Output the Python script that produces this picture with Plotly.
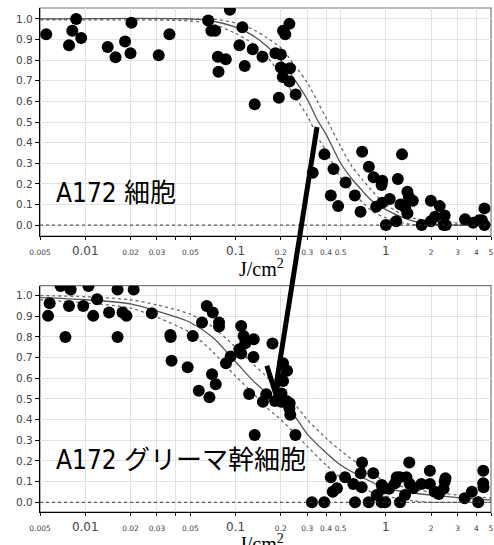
import plotly.graph_objects as go

# ---------------- data ----------------
# Top panel: A172 cells
top_x = [0.0055, 0.0078, 0.0082, 0.0087, 0.0094, 0.0141, 0.0159, 0.0184, 0.020, 0.0203,
         0.0308, 0.0363, 0.0658, 0.069, 0.0732, 0.0762, 0.077, 0.0861, 0.0916, 0.106,
         0.111, 0.115, 0.130, 0.151, 0.134, 0.228, 0.207, 0.214, 0.184, 0.200,
         0.200, 0.230, 0.206, 0.228, 0.251, 0.194,
         0.326, 0.39, 0.448, 0.43, 0.481, 0.539, 0.621, 0.678, 0.695, 0.77,
         0.828, 0.945, 0.936, 0.861, 0.945, 1.0, 1.06, 1.17, 1.2, 1.28,
         1.25, 1.39, 1.42, 1.51, 1.34, 1.39, 1.73, 1.99, 1.99, 2.12,
         2.28, 2.46, 2.42, 2.5, 3.36, 3.8, 4.17, 4.52, 4.52, 4.35]
top_y = [0.926, 0.872, 0.943, 1.0, 0.908, 0.864, 0.814, 0.89, 0.833, 0.982,
         0.824, 0.926, 0.992, 0.943, 0.943, 0.816, 0.744, 0.804, 1.044, 0.872,
         0.96, 0.772, 0.853, 0.816, 0.586, 0.976, 0.943, 0.926, 0.833, 0.827,
         0.764, 0.761, 0.718, 0.696, 0.634, 0.618,
         0.254, 0.343, 0.272, 0.144, 0.092, 0.207, 0.144, 0.065, 0.356, 0.283,
         0.232, 0.215, 0.194, 0.089, 0.108, 0.0, 0.126, 0.019, 0.223, 0.343,
         0.1, 0.162, 0.137, 0.118, 0.086, 0.057, 0.0, 0.118, 0.019, 0.04,
         0.092, 0.047, 0.0, 0.0, 0.028, 0.011, 0.024, 0.081, 0.0, 0.024]

# Bottom panel: A172 glioma stem cells
bot_x = [0.00566, 0.0058, 0.00686, 0.00738, 0.0078, 0.008, 0.0097, 0.0105, 0.0113, 0.012,
         0.0144, 0.0164, 0.0164, 0.0177, 0.0188, 0.021, 0.0277, 0.0368, 0.037, 0.0375,
         0.048, 0.0519, 0.0569, 0.0598, 0.0643, 0.067, 0.0697, 0.0705, 0.0738, 0.0776,
         0.0776, 0.0863, 0.0927, 0.106, 0.109, 0.109, 0.113, 0.116, 0.123, 0.132,
         0.1315, 0.152, 0.16, 0.176, 0.183, 0.202, 0.207, 0.22, 0.207, 0.201,
         0.218, 0.229, 0.228, 0.231,
         0.25, 0.134, 0.322, 0.389, 0.43, 0.443, 0.472, 0.535, 0.607, 0.623,
         0.68, 0.694, 0.69, 0.768, 0.824, 0.868, 0.937, 0.95, 0.937, 0.99,
         1.05, 1.15, 1.18, 1.24, 1.24, 1.34, 1.37, 1.43, 1.44, 1.52,
         1.72, 1.96, 1.96, 2.11, 2.25, 2.42, 2.49, 2.46, 3.34, 3.73,
         4.11, 4.44, 4.44, 4.46]
bot_y = [0.902, 0.963, 1.047, 0.80, 0.95, 1.03, 0.95, 1.047, 0.902, 0.983,
         0.918, 1.03, 0.80, 0.918, 0.902, 1.03, 0.915, 0.81, 0.80, 0.685,
         0.653, 0.805, 0.54, 0.87, 0.95, 0.508, 0.62, 0.918, 0.571, 0.87,
         0.85, 0.673, 0.705, 0.74, 0.72, 0.853, 0.805, 0.77, 0.524, 0.789,
         0.703, 0.487, 0.523, 0.768, 0.49, 0.526, 0.673, 0.636, 0.587, 0.487,
         0.49, 0.479, 0.455, 0.423,
         0.326, 0.326, 0.0, 0.0, 0.121, 0.051, 0.068, 0.121, 0.089, 0.0,
         0.14, 0.192, 0.073, 0.0, 0.14, 0.035, 0.084, 0.066, 0.0, 0.0,
         0.066, 0.092, 0.121, 0.121, 0.0, 0.035, 0.121, 0.192, 0.089, 0.068,
         0.089, 0.153, 0.089, 0.051, 0.04, 0.066, 0.116, 0.1, 0.019, 0.051,
         0.0, 0.153, 0.092, 0.073]

# Fitted curves and confidence bands
top_curve_x = [0.005, 0.05, 0.07, 0.1, 0.13, 0.16, 0.2, 0.25, 0.3, 0.35, 0.4, 0.5,
               0.6, 0.7, 0.8, 1.0, 1.3, 1.6, 2.0, 3.0, 5.0]
top_fit = [1.0, 1.0, 0.99, 0.96, 0.92, 0.87, 0.80, 0.70, 0.61, 0.51, 0.44, 0.30,
           0.22, 0.165, 0.12, 0.075, 0.036, 0.015, 0.005, 0.0, 0.0]
top_hi = [1.0, 1.0, 1.0, 0.98, 0.95, 0.91, 0.86, 0.77, 0.69, 0.60, 0.52, 0.38,
          0.28, 0.22, 0.17, 0.10, 0.05, 0.03, 0.02, 0.01, 0.005]
top_lo = [0.995, 0.99, 0.975, 0.93, 0.88, 0.82, 0.73, 0.62, 0.53, 0.43, 0.36, 0.23,
          0.16, 0.11, 0.07, 0.035, 0.01, 0.0, 0.0, 0.0, 0.0]

bot_curve_x = [0.005, 0.01, 0.02, 0.03, 0.05, 0.07, 0.1, 0.13, 0.16, 0.2, 0.25, 0.3,
               0.4, 0.5, 0.7, 1.0, 1.5, 2.0, 3.0, 5.0]
bot_fit = [0.99, 0.98, 0.96, 0.925, 0.87, 0.80, 0.68, 0.59, 0.53, 0.47, 0.41, 0.33,
           0.24, 0.18, 0.12, 0.068, 0.045, 0.035, 0.023, 0.01]
bot_hi = [1.0, 0.995, 0.98, 0.955, 0.91, 0.85, 0.75, 0.67, 0.61, 0.54, 0.47, 0.40,
          0.31, 0.25, 0.17, 0.10, 0.065, 0.05, 0.035, 0.02]
bot_lo = [0.98, 0.965, 0.94, 0.895, 0.82, 0.73, 0.61, 0.53, 0.46, 0.40, 0.33, 0.27,
          0.18, 0.12, 0.065, 0.03, 0.008, 0.0, 0.0, 0.0]

x_tickvals = [0.005, 0.01, 0.02, 0.03, 0.04, 0.05, 0.1, 0.2, 0.3, 0.4, 0.5,
              1, 2, 3, 4, 5]
x_ticklabels = ["0.005", "0.01", "0.02", "0.03", "", "0.05", "0.1", "0.2", "0.3",
                "0.4", "0.5", "1", "2", "3", "4", "5"]
major_labels = {"0.01", "0.1", "1"}
y_tickvals = [0.0, 0.1, 0.2, 0.3, 0.4, 0.5, 0.6, 0.7, 0.8, 0.9, 1.0]

panel_labels = ["A172 細胞", "A172 グリーマ幹細胞"]
x_title = "J/cm<sup>2</sup>"

# ---------------- figure ----------------
fig = go.Figure()

def add_panel(xa, ya, cx, fit, hi, lo, px, py):
    for band in (hi, lo):
        fig.add_trace(go.Scatter(x=cx, y=band, mode="lines", xaxis=xa, yaxis=ya,
                                 line=dict(color="#6a6a6a", width=1.3, dash="dot",
                                           shape="spline", smoothing=0.8),
                                 showlegend=False, hoverinfo="skip"))
    fig.add_trace(go.Scatter(x=cx, y=fit, mode="lines", xaxis=xa, yaxis=ya,
                             line=dict(color="#555555", width=1.3, shape="spline",
                                       smoothing=0.8),
                             showlegend=False, hoverinfo="skip"))
    fig.add_trace(go.Scatter(x=px, y=py, mode="markers", xaxis=xa, yaxis=ya,
                             marker=dict(size=12, color="black"),
                             showlegend=False))

add_panel("x", "y", top_curve_x, top_fit, top_hi, top_lo, top_x, top_y)
add_panel("x2", "y2", bot_curve_x, bot_fit, bot_hi, bot_lo, bot_x, bot_y)

ticktext = []
for t in x_ticklabels:
    if t in major_labels:
        ticktext.append('<span style="font-size:12px">%s</span>' % t)
    else:
        ticktext.append('<span style="font-size:7.5px">%s</span>' % t)

xcommon = dict(type="log", range=[-2.301, 0.699], tickvals=x_tickvals, ticktext=ticktext,
               showgrid=True, gridcolor="#e2e2e2", gridwidth=1, showline=True,
               linecolor="black", linewidth=1.2, ticks="outside", ticklen=3,
               tickcolor="black", tickfont=dict(family="DejaVu Sans", size=12, color="#444"),
               zeroline=False, fixedrange=True, automargin=False)
ycommon = dict(tickvals=y_tickvals, tickformat=".1f", showgrid=True, gridcolor="#e2e2e2",
               gridwidth=1, showline=True, linecolor="black", linewidth=1.2,
               ticks="outside", ticklen=4, tickcolor="black",
               tickfont=dict(family="Verdana, DejaVu Sans", size=10.5, color="#444"),
               zeroline=False, fixedrange=True, automargin=False)

fig.update_layout(
    width=494, height=545,
    margin=dict(l=40, r=3, t=8, b=33, autoexpand=False),
    paper_bgcolor="white", plot_bgcolor="white",
    xaxis=dict(domain=[0, 1], anchor="y", **xcommon),
    yaxis=dict(domain=[0.5476, 1.0], anchor="x", range=[-0.053, 1.053], **ycommon),
    xaxis2=dict(domain=[0, 1], anchor="y2", **xcommon),
    yaxis2=dict(domain=[0.0, 0.449], anchor="x2", range=[-0.047, 1.048], **ycommon),
)

shapes = []
for xa, ya in (("x", "y"), ("x2", "y2")):
    shapes.append(dict(type="rect", xref=xa + " domain", yref=ya + " domain",
                       x0=0, x1=1, y0=0, y1=1, line=dict(color="#777", width=1.2),
                       layer="below"))
    shapes.append(dict(type="line", xref=xa + " domain", yref=ya, x0=0, x1=1, y0=0, y1=0,
                       line=dict(color="#333", width=1, dash="dot"), layer="above"))
# arrow (shaft + open head)
shapes.append(dict(type="line", xref="paper", yref="paper", x0=0.6142, y0=0.7639,
                   x1=0.5233, y1=0.25, line=dict(color="black", width=5), layer="above"))
shapes.append(dict(type="path", xref="paper", yref="paper",
                   path="M 0.5030,0.2900 L 0.5211,0.2391 L 0.5425,0.2810",
                   line=dict(color="black", width=5), layer="above"))
fig.update_layout(shapes=shapes)

label_font = dict(family="Liberation Sans Narrow, DejaVu Sans Condensed, Roboto, Noto Sans CJK JP",
                  size=26, color="black")
fig.add_annotation(text=panel_labels[0], xref="paper", yref="paper", x=0.03, y=0.633,
                   xanchor="left", yanchor="middle", showarrow=False, font=label_font)
fig.add_annotation(text=panel_labels[1], xref="paper", yref="paper", x=0.03, y=0.103,
                   xanchor="left", yanchor="middle", showarrow=False, font=label_font)
title_font = dict(family="Liberation Serif, DejaVu Serif", size=20, color="black")
fig.add_annotation(text=x_title, xref="paper", yref="paper", x=0.492, y=0.512,
                   xanchor="center", yanchor="top", showarrow=False, font=title_font)
fig.add_annotation(text=x_title, xref="paper", yref="paper", x=0.492, y=-0.034,
                   xanchor="center", yanchor="top", showarrow=False, font=title_font)

# remove the page's default body margin so the 494x545 figure fills the window exactly
fig.write_html("out.html", config={"displayModeBar": False},
               post_script="document.body.style.margin='0';document.body.style.overflow='hidden';")
